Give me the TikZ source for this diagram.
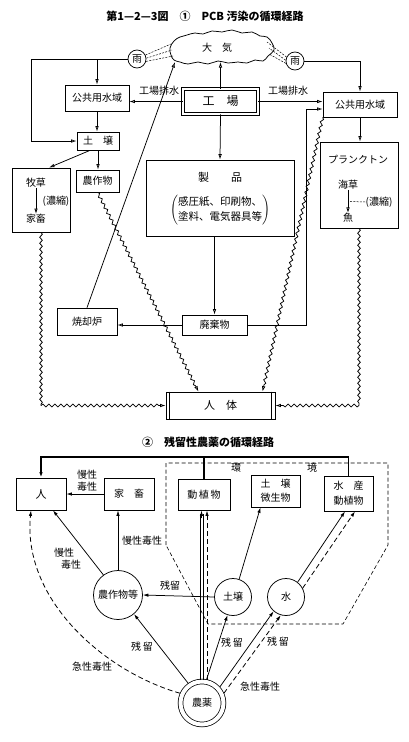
\documentclass[tikz,border=0pt]{standalone}
\usepackage{fontspec}
\setmainfont{Noto Sans CJK JP}
\usetikzlibrary{arrows.meta,calc,decorations.pathmorphing}
\newcommand\szA{\fontsize{10}{12}\selectfont}
\newcommand\szB{\fontsize{11}{13}\selectfont}
\newcommand\szC{\fontsize{12}{14}\selectfont}
\begin{document}
\begin{tikzpicture}[x=1pt,y=-1pt,line width=0.75pt,
  box/.style={draw,inner sep=0pt,align=center,font=\szA},
  lbl/.style={inner sep=0pt,align=center,font=\szA},
  arr/.style={-{Latex[open,length=5.5pt,width=3.6pt]}},
  arrf/.style={-{Latex[length=5.5pt,width=3.4pt]}},
  wavy/.style={decorate,decoration={snake,amplitude=1.4pt,segment length=6pt,post length=6pt}},
  wavyc/.style={decorate,decoration={snake,amplitude=1.4pt,segment length=6pt}},
  rain/.style={draw,circle,minimum size=18pt,inner sep=0pt,font=\szA},
  dl/.style={dash pattern=on 2pt off 1.3pt,line width=0.5pt},
  dsh/.style={dash pattern=on 5pt off 3pt,line width=0.8pt},
  ring/.style={draw,circle,inner sep=0pt,font=\szA},
]
\useasboundingbox[fill=white] (0,0) rectangle (408,742);

% ---------- Part 1 ----------
\node[font=\bfseries\szB] (t1) at (205,16) {第1—2—3図\quad ①\quad PCB 汚染の循環経路};

% cloud
\draw plot[smooth cycle,tension=0.7] coordinates {
 (170,48) (174,41) (180,37) (187,35) (195,33) (203,34) (212,31) (222,32)
 (232,30) (242,33) (252,32) (260,36) (267,37) (272,43) (274,50) (268,56)
 (263,61) (255,60) (247,63) (238,62) (228,63) (218,61) (208,64) (198,62)
 (188,64) (180,62) (174,60) (171,55)};
\node[font=\szA] (air) at (217,48) {大\quad 気};
\coordinate (airB) at (219,62);
\coordinate (airBL) at (175,62);
\coordinate (airL1) at (171,44);
\coordinate (airL2) at (172,50);
\coordinate (airL3) at (173,56);
\coordinate (airR1) at (267,42);
\coordinate (airR2) at (269,48);
\coordinate (airR3) at (269,54);

\node[rain] (rainL) at (137,59) {雨};
\node[rain] (rainR) at (295,61) {雨};
\draw[dl] (rainL.25) -- (airL1);
\draw[dl] (rainL.5) -- (airL2);
\draw[dl] (rainL.-15) -- (airL3);
\draw[dl] (rainR.155) -- (airR1);
\draw[dl] (rainR.175) -- (airR2);
\draw[dl] (rainR.195) -- (airR3);

\node[box,minimum width=64pt,minimum height=26pt] (waterL) at (97,98) {公共用水域};
\node[draw,double,double distance=1.6pt,inner sep=0pt,minimum width=75pt,minimum height=25pt,font=\szC] (factory) at (220.5,101.5) {工\quad 場};
\node[box,minimum width=74pt,minimum height=25pt] (waterR) at (360,104.5) {公共用水域};
\node[box,minimum width=42pt,minimum height=18pt] (soil) at (98,141) {土\quad 壌};

\node[box,minimum width=58pt,minimum height=64pt] (pasture) at (41,200) {};
\node[lbl] (pA) at (36,183) {牧草};
\node[lbl] (pB) at (36,219) {家畜};
\node[lbl] (pC) at (56,201) {(濃縮)};
\draw[arr] (pA.south) -- (pB.north);

\node[box,minimum width=43pt,minimum height=22pt] (crops) at (97.5,181) {農作物};

\node[box,minimum width=148pt,minimum height=76pt] (products) at (220,198) {};
\node[lbl,font=\szB] (prodT) at (220,177) {製\qquad 品};
\node[lbl,font=\fontsize{10.5}{15}\selectfont] (prodL) at (220,210)
  {$\left(\begin{tabular}{@{}c@{}}感圧紙、印刷物、\\ 塗料、電気器具等\end{tabular}\right)$};

\node[box,minimum width=78pt,minimum height=86pt] (plankton) at (359,185) {};
\node[lbl] (plT) at (358,160) {プランクトン};
\node[lbl] (plA) at (348,185) {海草};
\node[lbl] (plB) at (348,218) {魚};
\node[lbl] (plC) at (379,202) {(濃縮)};
\draw[arr] (plA.south) -- (plB.north);
\draw[dl] ($(plA.south)!0.5!(plB.north)+(2,0)$) -- (plC.west);

\node[box,minimum width=60pt,minimum height=27pt] (incin) at (87,321.5) {焼却炉};
\node[box,minimum width=65pt,minimum height=20pt] (waste) at (214.5,325) {廃棄物};
\node[box,minimum width=109pt,minimum height=27pt,font=\szB] (body) at (220.5,405.5) {人\quad 体};
\draw ($(body.north west)+(4,0)$) -- ($(body.south west)+(4,0)$);
\draw ($(body.north east)+(-4,0)$) -- ($(body.south east)+(-4,0)$);

% connectors part 1
\draw[arr] (factory.north) -- (factory.north |- airB);
\draw[arr] (factory.west) -- (factory.west -| waterL.east);
\node[lbl] (lw1) at (159,91) {工場排水};
\draw[arr] (factory.east) -- (factory.east -| waterR.west);
\node[lbl] (lw2) at (288,91) {工場排水};
\draw[arr] (factory.south) -- (products.north);
\draw[arr] (waste.north |- products.south) -- (waste.north);
\draw[arr] (waste.west) -- (waste.west -| incin.east);
\coordinate (wr) at (306,109);
\draw[arr] (waste.east) -| (wr) -- (wr -| waterR.west);
\draw[arr] (incin.north) -- (airBL);
\draw[arr] (rainL.west) -- ++(-96,0) |- (soil.west);
\draw[arr] (rainL.west -| waterL.north) -- (waterL.north);
\draw[arr] (waterL.south) -- (waterL.south |- soil.north);
\draw[arr] ($(soil.south)+(-8,0)$) -- ($(pasture.north)+(8,0)$);
\draw[arr] (soil.south) -- (soil.south |- crops.north);
\draw[arr] (rainR.east) -| (waterR.north);
\draw[arr] (waterR.south) -- (waterR.south |- plankton.north);

% wavy paths
\coordinate (wl) at (pasture.south |- body.west);
\draw[wavyc] (pasture.south) -- (wl);
\draw[wavy,arr] (wl) -- (body.west);
\coordinate (wr2) at (plankton.south |- body.east);
\draw[wavyc] (plankton.south) -- (wr2);
\draw[wavy,arr] (wr2) -- (body.east);
\draw[wavy,arr] (crops.south) -- ($(body.north)+(-22,0)$);
\draw[wavy,arr] (waterR.south west) -- ($(body.north)+(42,0)$);

% ---------- Part 2 ----------
\node[font=\bfseries\szB] (t2) at (208,442) {②\quad 残留性農薬の循環経路};

\draw[dash pattern=on 4pt off 2.5pt,line width=0.6pt] (166,545) -- (166,463) -- (388,463) -- (388,545) -- (343,624) -- (208,624) -- cycle;
\node[lbl] (env1) at (236,468) {環};
\node[lbl] (env2) at (312,468) {境};

\node[box,minimum width=50pt,minimum height=32pt,font=\szB] (hito) at (41,494) {人};
\node[box,minimum width=50pt,minimum height=32pt] (kachiku) at (129,494) {家\quad 畜};
\node[box,minimum width=52pt,minimum height=31pt] (doshoku) at (204,494.5) {動\,植\,物};
\node[box,minimum width=49pt,minimum height=32pt,font=\fontsize{10}{14}\selectfont] (bisei) at (275.5,491) {土\quad 壌\\微生物};
\node[box,minimum width=49pt,minimum height=35pt,font=\fontsize{10}{15}\selectfont] (suisan) at (348.5,493.5) {水\quad 産\\動植物};

\node[ring,minimum size=49pt] (crops2) at (118,595) {農作物等};
\node[ring,minimum size=37pt] (soil2) at (233,597) {土壌};
\node[ring,minimum size=37pt] (water2) at (286,597) {水};
\node[ring,double,double distance=4pt,minimum size=43pt,outer sep=2.5pt] (pest) at (202,703) {農薬};

\coordinate (ty) at (0,457);
\draw[line width=1.5pt] (doshoku.north) -- (doshoku.north |- ty);
\draw[line width=1.5pt,arrf] (suisan.north) -- (suisan.north |- ty) -- (hito.north |- ty) -- (hito.north);

\draw[arrf] (kachiku.west) -- (hito.east);
\node[lbl] (lk) at (87,480.5) {慢性\\毒性};
\draw[arrf] (crops2.north) -- (crops2.north |- kachiku.south);
\node[lbl] (lk2) at (142,541) {慢性毒性};
\draw[arrf] (crops2.126) -- ($(hito.south)+(12,0)$);
\node[lbl] (lk3) at (64,553) {慢性};
\node[lbl] (lk4) at (71,565) {毒性};
\draw[dsh,arrf] (pest.156) .. controls (105,672) and (22,600) .. ($(hito.south)+(-10,0)$);
\node[lbl] (lk5) at (92,667) {急性毒性};

\draw[arrf] (pest.125) -- (crops2.310);
\node[lbl] (lr1) at (142,647) {残\,留};
\draw[arrf] (soil2.west) -- (crops2.east);
\node[lbl] (lr2) at (170,586) {残留};
\draw[arrf] (pest.79) -- (soil2.253);
\node[lbl] (lr3) at (232,643) {残\,留};
\draw[arrf] (soil2.71) -- ($(bisei.south)+(-15,0)$);

\draw ($(doshoku.south |- pest.north)+(-4,1)$) -- ($(doshoku.south)+(-4,4)$);
\draw ($(doshoku.south |- pest.north)+(-1,1)$) -- ($(doshoku.south)+(-1,4)$);
\draw[arrf] ($(doshoku.south)+(-2.5,8)$) -- ($(doshoku.south)+(-2.5,0)$);
\draw[dsh,arrf] ($(doshoku.south |- pest.north)+(3,1)$) -- ($(doshoku.south)+(3,0)$);

\draw[arrf] (pest.42) -- (water2.229);
\draw[dsh,arrf] (pest.24) -- (water2.254);
\node[lbl] (lr4) at (278,642) {残\,留};
\node[lbl] (la2) at (260,687) {急性毒性};
\draw[arrf] (water2.52) -- ($(suisan.south)+(-3.5,0)$);
\draw[dsh,arrf] (water2.28) -- ($(suisan.south)+(6.5,0)$);
\end{tikzpicture}
\end{document}
